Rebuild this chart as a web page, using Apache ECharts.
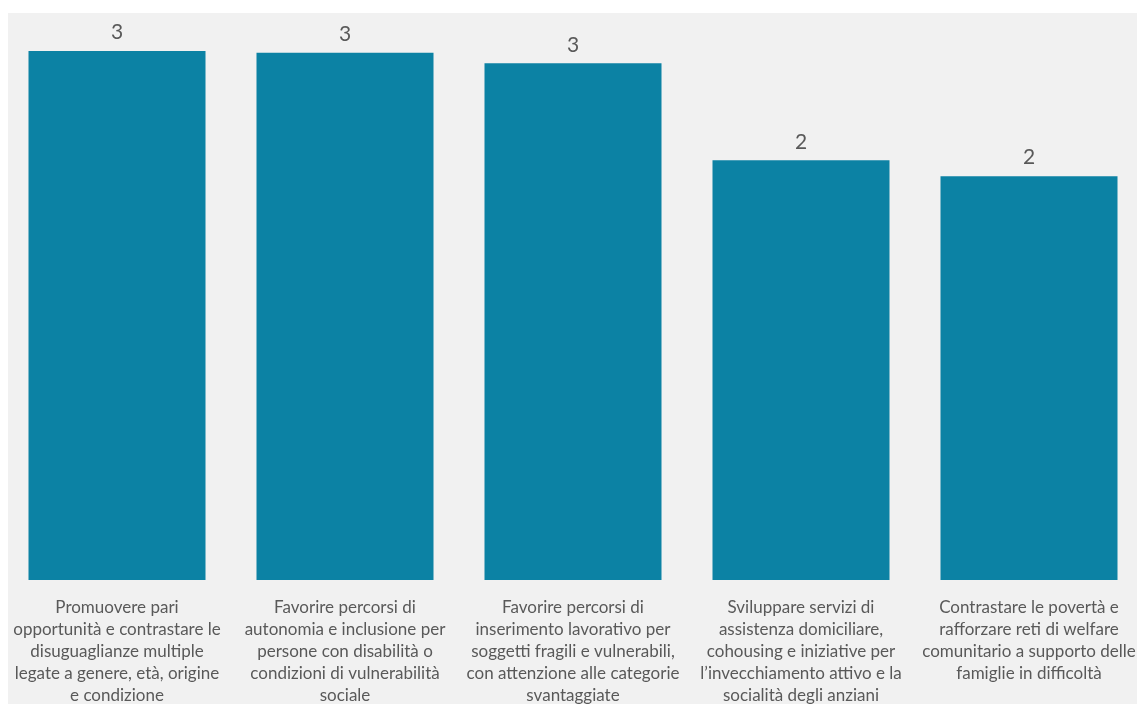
<!DOCTYPE html>
<html>
<head>
<meta charset="utf-8">
<script src="https://cdn.jsdelivr.net/npm/echarts@6/dist/echarts.min.js"></script>
<style>
html,body{margin:0;padding:0;background:#ffffff;}
#chart{width:1137px;height:704px;}
</style>
</head>
<body>
<div id="chart"></div>
<script>
const categories = [
  "Promuovere pari\nopportunità e contrastare le\ndisuguaglianze multiple\nlegate a genere, età, origine\ne condizione",
  "Favorire percorsi di\nautonomia e inclusione per\npersone con disabilità o\ncondizioni di vulnerabilità\nsociale",
  "Favorire percorsi di\ninserimento lavorativo per\nsoggetti fragili e vulnerabili,\ncon attenzione alle categorie\nsvantaggiate",
  "Sviluppare servizi di\nassistenza domiciliare,\ncohousing e iniziative per\nl’invecchiamento attivo e la\nsocialità degli anziani",
  "Contrastare le povertà e\nrafforzare reti di welfare\ncomunitario a supporto delle\nfamiglie in difficoltà"
];
const values = [3.0, 2.99, 2.93, 2.38, 2.29];

const chart = echarts.init(document.getElementById('chart'));
chart.setOption({
  backgroundColor: '#ffffff',
  animation: false,
  graphic: [{
    type: 'rect', z: -10, silent: true,
    shape: { x: 8, y: 13, width: 1129, height: 691 },
    style: { fill: '#f1f1f1' }
  }],
  grid: { left: 3, width: 1140, top: 51, height: 529, containLabel: false, outerBoundsMode: 'none' },
  xAxis: {
    type: 'category',
    data: categories,
    axisLine: { show: false },
    axisTick: { show: false },
    axisLabel: {
      interval: 0,
      margin: 17,
      fontFamily: 'Lato',
      fontSize: 17,
      lineHeight: 22,
      color: '#595959',
      align: 'center'
    }
  },
  yAxis: {
    type: 'value',
    min: 0,
    max: 3,
    show: false,
    splitLine: { show: false }
  },
  series: [{
    type: 'bar',
    data: values,
    barWidth: 177,
    itemStyle: { color: '#0c82a4' },
    label: {
      show: true,
      position: 'top',
      distance: 8,
      fontFamily: 'Lato',
      fontSize: 21,
      color: '#595959',
      formatter: p => Math.round(p.value).toString()
    }
  }]
});
</script>
</body>
</html>
